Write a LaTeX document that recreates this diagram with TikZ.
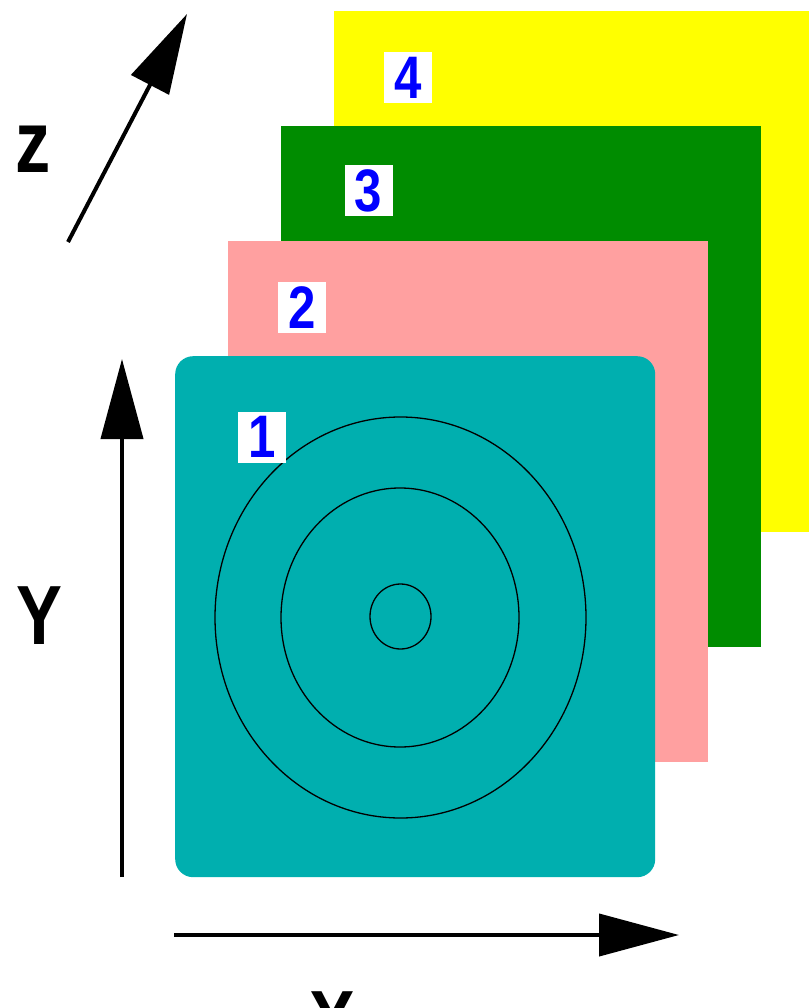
\documentclass[tikz,border=0pt]{standalone}
\usepackage{fontspec}
\setmainfont{Liberation Sans}
\usepackage{graphicx}
\usetikzlibrary{arrows.meta}
\definecolor{plyellow}{RGB}{255,255,0}
\definecolor{plgreen}{RGB}{0,140,0}
\definecolor{plpink}{RGB}{255,160,160}
\definecolor{plteal}{RGB}{0,175,175}
\definecolor{tagblue}{RGB}{0,0,255}
\newcommand{\narrow}[1]{\scalebox{0.82}[1]{#1}}

\begin{document}
\begin{tikzpicture}[x=1pt,y=-1pt,
    plane/.style={anchor=north west, inner sep=0pt, minimum width=480pt, minimum height=521pt},
    tag/.style={fill=white, inner sep=0pt, minimum width=48pt, minimum height=51pt,
      text=tagblue, font=\fontsize{60}{60}\selectfont\bfseries},
    axis/.style={line width=4pt, -{Triangle[length=80pt,width=42pt]}},
    axlabel/.style={inner sep=0pt, font=\fontsize{84}{84}\selectfont\bfseries},
    ring/.style={line width=1.3pt}]
  \useasboundingbox (0,0) rectangle (808,1008);

  % planes, back to front
  \node[plane, fill=plyellow] (p4) at (334,11) {};
  \node[plane, fill=plgreen] (p3) at (281,126) {};
  \node[plane, fill=plpink] (p2) at (228,241) {};
  \node[plane, fill=plteal, rounded corners=18pt] (p1) at (175,356) {};

  % rings on the front plane
  \draw[ring] (400.5,617.5) ellipse [x radius=185.5, y radius=200.5];
  \draw[ring] (400,617.5) ellipse [x radius=119, y radius=129.5];
  \draw[ring] (400.5,616.5) ellipse [x radius=30.5, y radius=32.5];

  % plane numbers
  \node[tag] (t4) at (408,77.5) {\narrow{4}};
  \node[tag] (t3) at (368.5,191) {\narrow{3}};
  \node[tag] (t2) at (302,307.5) {\narrow{2}};
  \node[tag] (t1) at (262,437) {\narrow{1}};

  % axes
  \coordinate (ystart) at (122,877);
  \coordinate (yend) at (122,359);
  \coordinate (xstart) at (174,935);
  \coordinate (xend) at (679,935);
  \coordinate (zstart) at (68,242);
  \coordinate (zend) at (187,14);
  \draw[axis] (ystart) -- (yend);
  \draw[axis] (xstart) -- (xend);
  \draw[axis] (zstart) -- (zend);

  \node[axlabel] (ylab) at (39.5,616) {\narrow{Y}};
  \node[axlabel] (xlab) at (332.5,1020.5) {\narrow{X}};
  \node[axlabel, font=\fontsize{88}{88}\selectfont\bfseries] (zlab) at (33,149.5) {\scalebox{0.8}[1]{z}};
\end{tikzpicture}
\end{document}
